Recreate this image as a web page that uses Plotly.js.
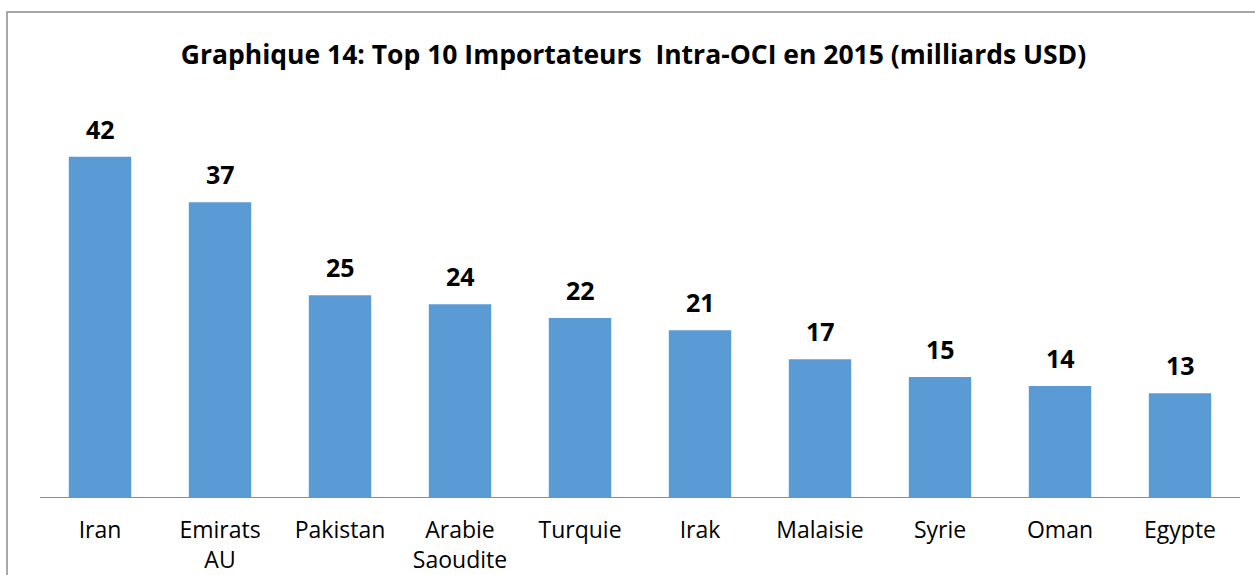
<!DOCTYPE html>
<html><head><meta charset="utf-8">
<script src="https://cdn.plot.ly/plotly-3.0.1.min.js"></script>
<style>html,body{margin:0;padding:0;background:#fff;}#chart{width:1255px;height:575px;}</style>
</head><body><div id="chart"></div>
<script>
const categories = ["Iran", "Emirats<br>AU", "Pakistan", "Arabie<br>Saoudite", "Turquie", "Irak", "Malaisie", "Syrie", "Oman", "Egypte"];
const imports = [42.0, 36.4, 24.9, 23.8, 22.1, 20.6, 17.0, 14.8, 13.7, 12.8];
const valueLabels = ["42", "37", "25", "24", "22", "21", "17", "15", "14", "13"];

const trace = {
  type: 'bar',
  x: categories,
  y: imports,
  marker: {color: '#5B9BD5'},
  hoverinfo: 'x+y'
};

const annotations = categories.map((c, i) => ({
  x: c, y: imports[i], xref: 'x', yref: 'y',
  text: '<b>' + valueLabels[i] + '</b>',
  showarrow: false, yanchor: 'middle', yshift: 28,
  font: {family: 'Open Sans, sans-serif', size: 25, color: '#000'}
}));

const layout = {
  width: 1255, height: 575,
  margin: {l: 40, r: 15, t: 92, b: 78},
  paper_bgcolor: '#fff', plot_bgcolor: '#fff',
  bargap: 0.48,
  showlegend: false,
  title: {
    text: '<b>Graphique 14: Top 10 Importateurs\u00a0 Intra-OCI en 2015 (milliards USD)</b>',
    font: {family: 'Open Sans, sans-serif', size: 26.5, color: '#000'},
    x: 0.4946, xref: 'paper', xanchor: 'center',
    y: 1 - 55/575, yref: 'container', yanchor: 'middle'
  },
  xaxis: {
    showline: true, linecolor: '#8c8c8c', linewidth: 1,
    ticks: '', showgrid: false, ticklabelstandoff: 12,
    tickfont: {family: 'Open Sans, sans-serif', size: 23, color: '#000'}
  },
  yaxis: {
    range: [0, 50], visible: false, showgrid: false, zeroline: false
  },
  annotations: annotations,
  shapes: [{
    type: 'rect', xref: 'paper', yref: 'paper',
    x0: -0.0275, x1: 1.2, y0: -0.6, y1: 1.1975,
    line: {color: '#8c8c8c', width: 1.5}, fillcolor: 'rgba(0,0,0,0)', layer: 'below'
  }]
};

Plotly.newPlot('chart', [trace], layout, {displayModeBar: false, staticPlot: true});
</script></body></html>
